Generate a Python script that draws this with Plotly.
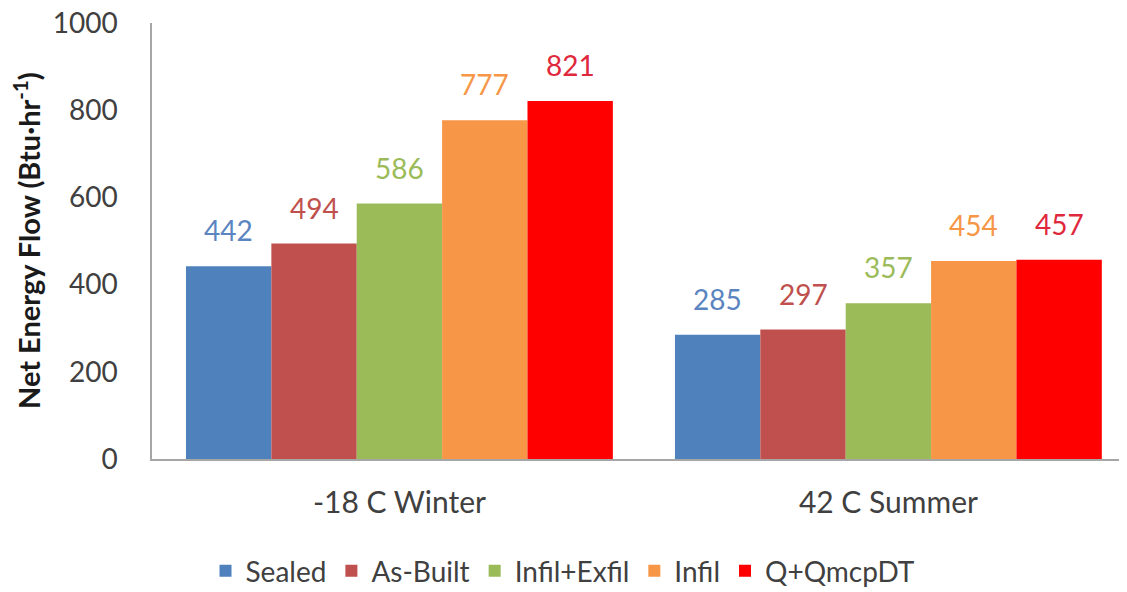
import plotly.graph_objects as go

categories = ["-18 C Winter", "42 C Summer"]
series_names = ["Sealed", "As-Built", "Infil+Exfil", "Infil", "Q+QmcpDT"]
sealed = [442, 285]
as_built = [494, 297]
infil_exfil = [586, 357]
infil = [777, 454]
q_qmcpdt = [821, 457]
y_ticks = [0, 200, 400, 600, 800, 1000]

values = [sealed, as_built, infil_exfil, infil, q_qmcpdt]
bar_colors = ["#4F81BD", "#C0504D", "#9BBB59", "#F79646", "#FF0000"]
label_colors = ["#5A85C0", "#C0504D", "#9BBB59", "#F79646", "#E0283C"]

FONT = "Lato, 'Open Sans', sans-serif"
BARGAP = 0.127

# page body has an 8px default margin; layout margins compensate for it
L, T, R, B = 144, 15, 8, 141
PW, PH = 1127 - L - R, 592 - T - B

fig = go.Figure()
for name, vals, c in zip(series_names, values, bar_colors):
    fig.add_trace(go.Bar(
        name=name, x=categories, y=vals,
        marker=dict(color=c, line=dict(width=0)),
        hoverinfo="y",
    ))

# data labels above bars, positioned via the category axis scale
n = len(series_names)
bw = (1 - BARGAP) / n
annotations = []
for i, (vals, lc) in enumerate(zip(values, label_colors)):
    for ci, v in enumerate(vals):
        annotations.append(dict(
            x=ci - (1 - BARGAP) / 2 + bw * (i + 0.5), y=v, xref="x", yref="y",
            text=str(v), showarrow=False, yanchor="bottom", yshift=17,
            font=dict(size=28, color=lc, family=FONT),
        ))
annotations.append(dict(
    x=-(L - 19) / PW, y=0.5, xref="paper", yref="paper",
    text="<b>Net Energy Flow (Btu·hr<sup>-1</sup>)</b>", textangle=-90,
    showarrow=False, xanchor="center", yanchor="middle",
    font=dict(size=29, color="#1a1a1a", family=FONT),
))

fig.update_layout(
    width=1127, height=592,
    barmode="group", bargap=BARGAP, bargroupgap=0,
    plot_bgcolor="white", paper_bgcolor="white",
    margin=dict(l=L, r=R, t=T, b=B, autoexpand=False),
    font=dict(family=FONT, color="#404040"),
    showlegend=True,
    legend=dict(orientation="h", x=(555 - L) / PW, xanchor="center",
                y=-(563 - (592 - B)) / PH, yanchor="middle",
                font=dict(size=28, color="#404040", family=FONT), traceorder="normal",
                itemwidth=30),
    annotations=annotations,
)
fig.update_xaxes(
    range=[-0.506, 1.488], showline=True, linecolor="#A6A6A6", linewidth=1.5,
    ticks="", tickfont=dict(size=30, color="#404040", family=FONT),
    showgrid=False, zeroline=False, automargin=False, ticklabelstandoff=16,
)
fig.update_yaxes(
    range=[0, 1000], tickvals=y_ticks, showline=True, linecolor="#A6A6A6", linewidth=1.5,
    showgrid=False, zeroline=False, ticks="", automargin=False,
    tickfont=dict(size=28, color="#404040", family=FONT), ticklabelstandoff=27,
    ticklabeloverflow="allow",
)
fig.write_html("out.html")
